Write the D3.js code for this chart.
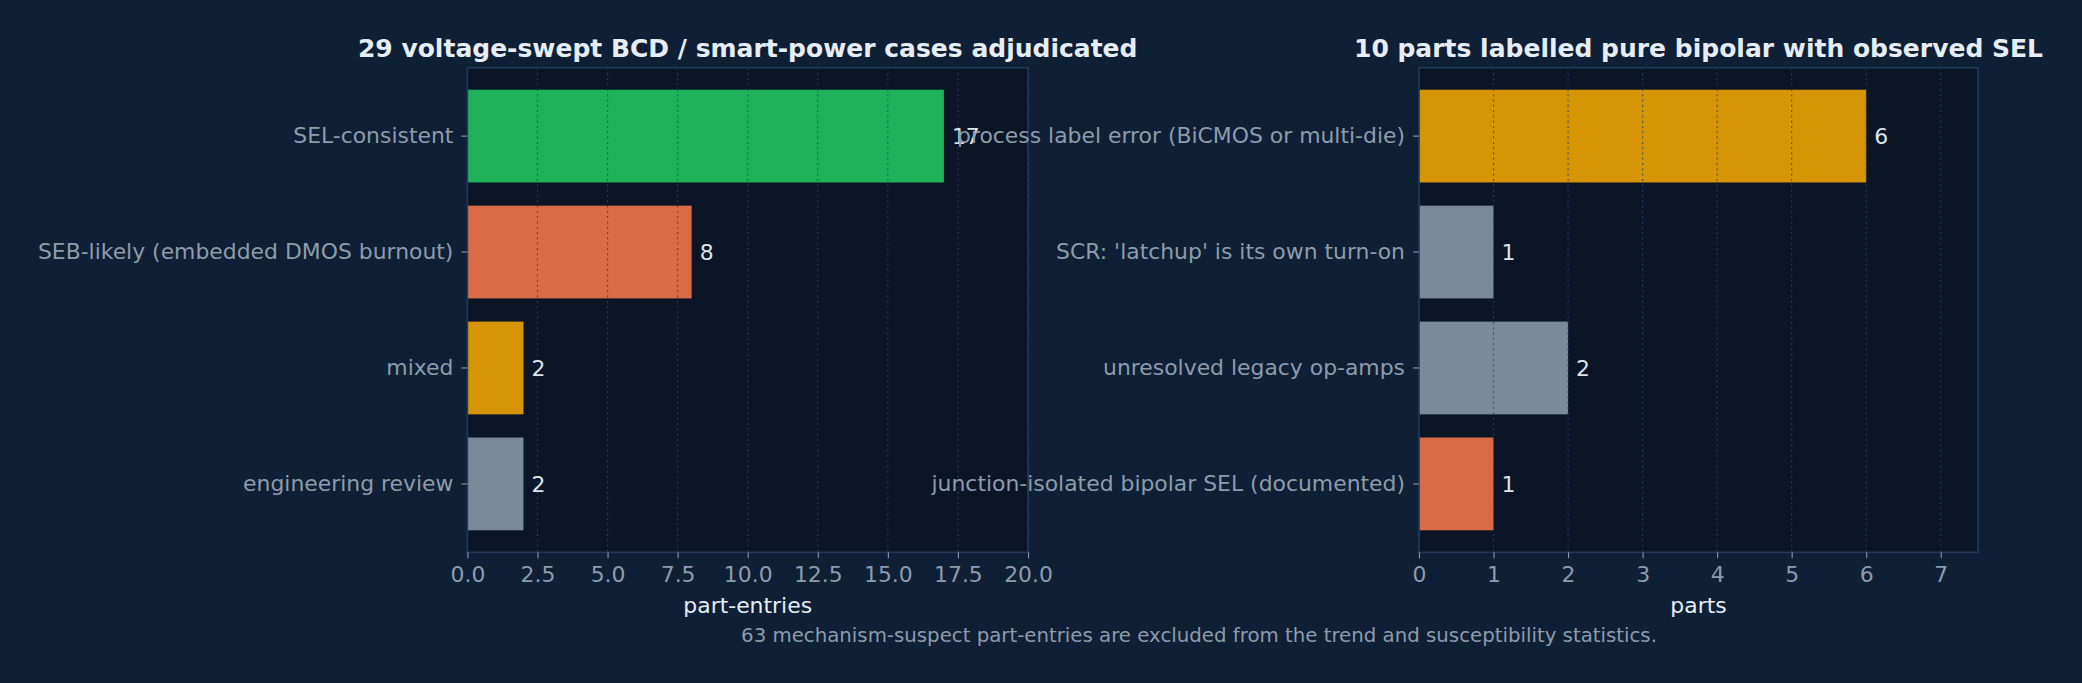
<!DOCTYPE html>
<html>
<head>
<meta charset="utf-8">
<script src="https://cdn.jsdelivr.net/npm/d3@7"></script>
<style>
  body { margin: 0; background: #0f1f35; }
  svg { display: block; font-family: "DejaVu Sans", sans-serif; }
</style>
</head>
<body>
<div id="chart"></div>
<script>
// left panel: BCD / smart-power cases
const leftCategories = ["SEL-consistent", "SEB-likely (embedded DMOS burnout)", "mixed", "engineering review"];
const leftValues = [17, 8, 2, 2];
const leftColors = ["#1fb25a", "#d96c47", "#d69505", "#7b8a99"];
const leftTicks = [0, 2.5, 5, 7.5, 10, 12.5, 15, 17.5, 20];

// right panel: pure bipolar parts
const rightCategories = ["process label error (BiCMOS or multi-die)", "SCR: 'latchup' is its own turn-on", "unresolved legacy op-amps", "junction-isolated bipolar SEL (documented)"];
const rightValues = [6, 1, 2, 1];
const rightColors = ["#d69505", "#7b8a99", "#7b8a99", "#d96c47"];
const rightTicks = [0, 1, 2, 3, 4, 5, 6, 7];

const W = 2082, H = 683;
const plotTop = 67.7, plotBottom = 552.3;
const tickFont = 21.9;

const svg = d3.select("#chart").append("svg")
  .attr("width", W)
  .attr("height", H);

svg.append("rect").attr("width", W).attr("height", H).attr("fill", "#0f1f35");

function panel(opt) {
  const x = d3.scaleLinear().domain([0, opt.xmax]).range([opt.x0, opt.x1]);
  const y = d3.scaleBand().domain(opt.cats).range([plotTop, plotBottom])
    .paddingInner(0.2).paddingOuter(0.19);

  const g = svg.append("g");

  // plot background
  g.append("rect")
    .attr("x", opt.x0).attr("y", plotTop)
    .attr("width", opt.x1 - opt.x0).attr("height", plotBottom - plotTop)
    .attr("fill", "#0b1526");

  // bars
  g.append("g").selectAll("rect")
    .data(opt.cats)
    .join("rect")
      .attr("x", x(0))
      .attr("y", d => y(d))
      .attr("width", (d, i) => x(opt.values[i]) - x(0))
      .attr("height", y.bandwidth())
      .attr("fill", (d, i) => opt.colors[i]);

  // dotted grid on top of bars
  g.append("g").selectAll("line")
    .data(opt.ticks)
    .join("line")
      .attr("x1", d => x(d)).attr("x2", d => x(d))
      .attr("y1", plotTop).attr("y2", plotBottom)
      .attr("stroke", "#2b4566")
      .attr("stroke-opacity", 0.8)
      .attr("stroke-width", 1.1)
      .attr("stroke-dasharray", "2,3.3");

  // spines
  g.append("rect")
    .attr("x", opt.x0).attr("y", plotTop)
    .attr("width", opt.x1 - opt.x0).attr("height", plotBottom - plotTop)
    .attr("fill", "none")
    .attr("stroke", "#1e3a5c")
    .attr("stroke-width", 1.6);

  // x axis
  const xa = g.append("g")
    .attr("transform", "translate(0," + plotBottom + ")")
    .call(d3.axisBottom(x).tickValues(opt.ticks).tickFormat(opt.fmt).tickSize(6).tickPadding(8.5));
  xa.select(".domain").remove();
  xa.selectAll("line").attr("stroke", "#8a99a8").attr("stroke-width", 1.1);
  xa.selectAll("text")
    .attr("fill", "#8d9bab")
    .attr("font-size", tickFont)
    .attr("font-family", "DejaVu Sans");

  // y axis
  const ya = g.append("g")
    .attr("transform", "translate(" + opt.x0 + ",0)")
    .call(d3.axisLeft(y).tickSize(6).tickPadding(8));
  ya.select(".domain").remove();
  ya.selectAll("line").attr("stroke", "#8a99a8").attr("stroke-width", 1.1);
  ya.selectAll("text")
    .attr("fill", "#8d9bab")
    .attr("font-size", tickFont)
    .attr("font-family", "DejaVu Sans");

  // value labels
  g.append("g").selectAll("text")
    .data(opt.cats)
    .join("text")
      .attr("x", (d, i) => x(opt.values[i]) + 8)
      .attr("y", d => y(d) + y.bandwidth() / 2)
      .attr("dy", "0.36em")
      .attr("fill", "#dde4ec")
      .attr("font-size", tickFont)
      .text((d, i) => opt.values[i]);

  // title
  g.append("text")
    .attr("x", (opt.x0 + opt.x1) / 2)
    .attr("y", 57)
    .attr("text-anchor", "middle")
    .attr("fill", "#e6edf5")
    .attr("font-size", 25)
    .attr("font-weight", "bold")
    .text(opt.title);

  // x label
  g.append("text")
    .attr("x", (opt.x0 + opt.x1) / 2)
    .attr("y", 613)
    .attr("text-anchor", "middle")
    .attr("fill", "#e6edf5")
    .attr("font-size", tickFont)
    .text(opt.xlabel);
}

panel({
  cats: leftCategories, values: leftValues, colors: leftColors, ticks: leftTicks,
  xmax: 20, x0: 467.4, x1: 1028, fmt: d3.format(".1f"),
  title: "29 voltage-swept BCD / smart-power cases adjudicated",
  xlabel: "part-entries"
});

panel({
  cats: rightCategories, values: rightValues, colors: rightColors, ticks: rightTicks,
  xmax: 7.5, x0: 1419, x1: 1978, fmt: d3.format("d"),
  title: "10 parts labelled pure bipolar with observed SEL",
  xlabel: "parts"
});

// footnote
svg.append("text")
  .attr("x", 1199)
  .attr("y", 641.5)
  .attr("text-anchor", "middle")
  .attr("fill", "#8d9bab")
  .attr("font-size", 19.75)
  .text("63 mechanism-suspect part-entries are excluded from the trend and susceptibility statistics.");
</script>
</body>
</html>
